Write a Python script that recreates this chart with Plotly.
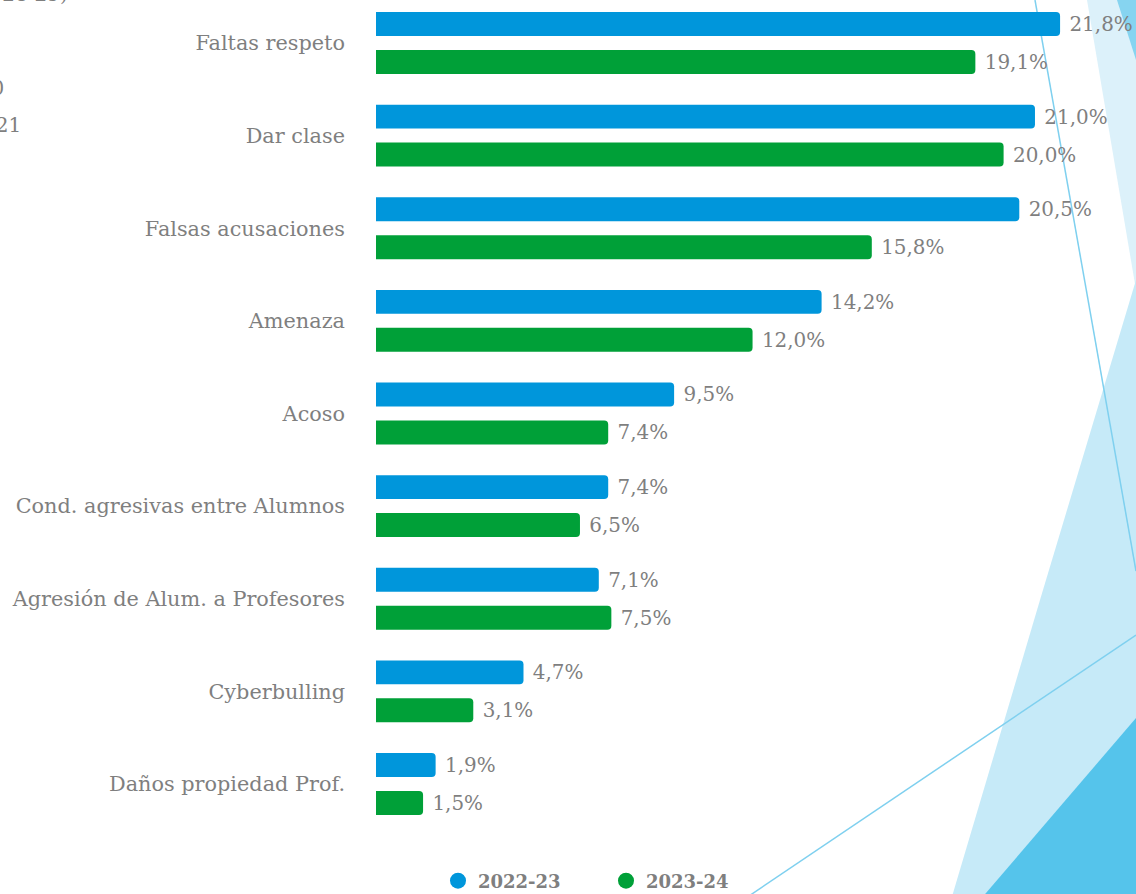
import plotly.graph_objects as go

categories = ["Faltas respeto", "Dar clase", "Falsas acusaciones", "Amenaza", "Acoso",
              "Cond. agresivas entre Alumnos", "Agresión de Alum. a Profesores",
              "Cyberbulling", "Daños propiedad Prof."]
values_2022 = [21.8, 21.0, 20.5, 14.2, 9.5, 7.4, 7.1, 4.7, 1.9]
values_2023 = [19.1, 20.0, 15.8, 12.0, 7.4, 6.5, 7.5, 3.1, 1.5]
series_names = ["2022-23", "2023-24"]

BLUE = "#0096DB"
GREEN = "#00A038"
GREY = "#7f7f7f"
FONT = "DejaVu Serif"

W, H = 1136, 894
L, T, PW, PH = 376, 10, 760, 820


def px(x):
    return (x - L) / PW


def py(y):
    return (T + PH - y) / PH


def fmt(v):
    return "\u00a0" + f"{v:.1f}".replace(".", ",") + "%"


fig = go.Figure()
for name, vals, col in [(series_names[0], values_2022, BLUE), (series_names[1], values_2023, GREEN)]:
    fig.add_trace(go.Bar(
        y=categories, x=vals, orientation="h", name=name,
        marker=dict(color=col, line=dict(width=0)),
        text=[fmt(v) for v in vals], textposition="outside",
        textfont=dict(family=FONT, size=20, color=GREY),
        cliponaxis=False, showlegend=False, hoverinfo="skip",
    ))
    fig.add_trace(go.Scatter(
        x=[None], y=[None], mode="markers", name=name,
        marker=dict(color=col, size=22, symbol="circle"),
    ))

shapes = []
shapes.append(dict(type="path", xref="paper", yref="paper", layer="below",
                   path=f"M {px(1087)} {py(0)} L {px(1136)} {py(0)} L {px(1136)} {py(290)} Z",
                   fillcolor="#dcf1fa", line=dict(width=0)))
shapes.append(dict(type="path", xref="paper", yref="paper", layer="below",
                   path=f"M {px(1117)} {py(0)} L {px(1136)} {py(0)} L {px(1136)} {py(60)} Z",
                   fillcolor="#86d4f0", line=dict(width=0)))
shapes.append(dict(type="path", xref="paper", yref="paper", layer="below",
                   path=f"M {px(1136)} {py(280)} L {px(1136)} {py(900)} L {px(951)} {py(900)} L {px(1040)} {py(600)} Z",
                   fillcolor="#c6eaf8", line=dict(width=0)))
shapes.append(dict(type="path", xref="paper", yref="paper", layer="below",
                   path=f"M {px(1136)} {py(718)} L {px(1136)} {py(900)} L {px(980)} {py(900)} Z",
                   fillcolor="#55c4eb", line=dict(width=0)))
shapes.append(dict(type="line", xref="paper", yref="paper", layer="below",
                   x0=px(1035), y0=py(0), x1=px(1136), y1=py(571),
                   line=dict(color="#7fd0ef", width=1.5)))
shapes.append(dict(type="line", xref="paper", yref="paper", layer="below",
                   x0=px(743), y0=py(900), x1=px(1136), y1=py(635),
                   line=dict(color="#7fd0ef", width=1.5)))

annotations = [
    dict(text="2019-20", xref="paper", yref="paper", x=px(6), y=py(88), xanchor="right", yanchor="middle",
         showarrow=False, font=dict(family=FONT, size=20, color=GREY)),
    dict(text="2020-21", xref="paper", yref="paper", x=px(23), y=py(125), xanchor="right", yanchor="middle",
         showarrow=False, font=dict(family=FONT, size=20, color=GREY)),
    dict(text="(2028-29)", xref="paper", yref="paper", x=px(70), y=py(-6), xanchor="right", yanchor="middle",
         showarrow=False, font=dict(family=FONT, size=20, color=GREY)),
]

fig.update_layout(
    width=W, height=H,
    margin=dict(l=L, r=W - L - PW, t=T, b=H - T - PH, pad=0, autoexpand=False),
    paper_bgcolor="white", plot_bgcolor="rgba(0,0,0,0)",
    barmode="group", bargap=0.18, bargroupgap=0.37, barcornerradius=4,
    font=dict(family=FONT, color=GREY, size=20),
    xaxis=dict(range=[0, PW / 31.38], visible=False, fixedrange=True),
    yaxis=dict(categoryorder="array", categoryarray=categories,
               range=[8.497, -0.356], showgrid=False, zeroline=False, showline=False,
               ticks="", ticklabelstandoff=30, tickfont=dict(family=FONT, size=20.8, color=GREY)),
    legend=dict(orientation="h", xref="container", yref="container",
                x=438 / W, y=1 - 881 / H, xanchor="left", yanchor="middle",
                font=dict(family=FONT, size=18, color=GREY, weight="bold"),
                entrywidth=123, entrywidthmode="pixels", bgcolor="rgba(0,0,0,0)"),
    shapes=shapes, annotations=annotations,
)

fig.write_html("out.html", config={"displayModeBar": False},
               post_script="document.body.style.margin='0';document.body.style.overflow='hidden';")
